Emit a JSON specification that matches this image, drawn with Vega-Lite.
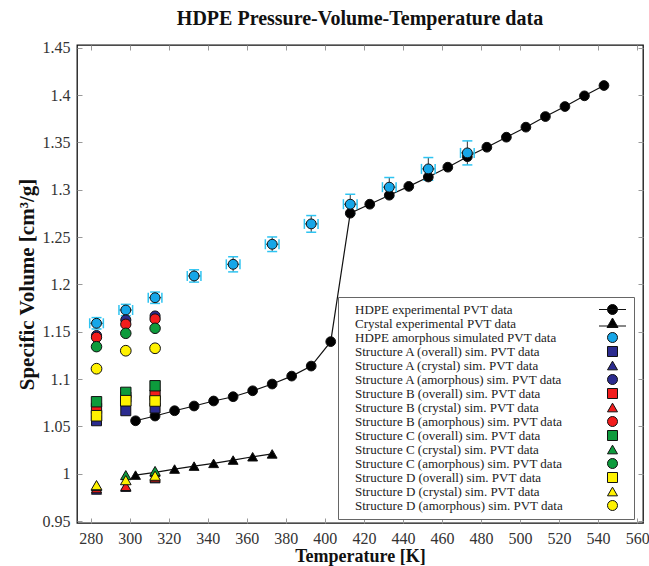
{
  "$schema": "https://vega.github.io/schema/vega-lite/v6.json",
  "width": 566,
  "height": 478,
  "autosize": {"type": "none"},
  "padding": {"left": 77, "top": 45, "right": 6, "bottom": 43},
  "title": {"text": "HDPE Pressure-Volume-Temperature data", "fontSize": 20, "fontWeight": "bold", "font": "Liberation Serif", "offset": 11, "color": "#111", "anchor": "middle"},
  "datasets": {
    "main": [
      {"series": "HDPE experimental PVT data", "T": 303, "V": 1.056},
      {"series": "HDPE experimental PVT data", "T": 313, "V": 1.061},
      {"series": "HDPE experimental PVT data", "T": 323, "V": 1.0666},
      {"series": "HDPE experimental PVT data", "T": 333, "V": 1.0716},
      {"series": "HDPE experimental PVT data", "T": 343, "V": 1.0769},
      {"series": "HDPE experimental PVT data", "T": 353, "V": 1.0814},
      {"series": "HDPE experimental PVT data", "T": 363, "V": 1.0877},
      {"series": "HDPE experimental PVT data", "T": 373, "V": 1.0948},
      {"series": "HDPE experimental PVT data", "T": 383, "V": 1.1032},
      {"series": "HDPE experimental PVT data", "T": 393, "V": 1.1138},
      {"series": "HDPE experimental PVT data", "T": 403, "V": 1.1396},
      {"series": "HDPE experimental PVT data", "T": 413, "V": 1.2753},
      {"series": "HDPE experimental PVT data", "T": 423, "V": 1.2848},
      {"series": "HDPE experimental PVT data", "T": 433, "V": 1.2943},
      {"series": "HDPE experimental PVT data", "T": 443, "V": 1.3036},
      {"series": "HDPE experimental PVT data", "T": 453, "V": 1.3135},
      {"series": "HDPE experimental PVT data", "T": 463, "V": 1.3239},
      {"series": "HDPE experimental PVT data", "T": 473, "V": 1.335},
      {"series": "HDPE experimental PVT data", "T": 483, "V": 1.345},
      {"series": "HDPE experimental PVT data", "T": 493, "V": 1.3556},
      {"series": "HDPE experimental PVT data", "T": 503, "V": 1.3662},
      {"series": "HDPE experimental PVT data", "T": 513, "V": 1.3774},
      {"series": "HDPE experimental PVT data", "T": 523, "V": 1.388},
      {"series": "HDPE experimental PVT data", "T": 533, "V": 1.3993},
      {"series": "HDPE experimental PVT data", "T": 543, "V": 1.4102},
      {"series": "Crystal experimental PVT data", "T": 303, "V": 0.9986},
      {"series": "Crystal experimental PVT data", "T": 313, "V": 1.0015},
      {"series": "Crystal experimental PVT data", "T": 323, "V": 1.005},
      {"series": "Crystal experimental PVT data", "T": 333, "V": 1.0081},
      {"series": "Crystal experimental PVT data", "T": 343, "V": 1.011},
      {"series": "Crystal experimental PVT data", "T": 353, "V": 1.0145},
      {"series": "Crystal experimental PVT data", "T": 363, "V": 1.018},
      {"series": "Crystal experimental PVT data", "T": 373, "V": 1.021},
      {"series": "HDPE amorphous simulated PVT data", "T": 283, "V": 1.159},
      {"series": "HDPE amorphous simulated PVT data", "T": 298, "V": 1.173},
      {"series": "HDPE amorphous simulated PVT data", "T": 313, "V": 1.186},
      {"series": "HDPE amorphous simulated PVT data", "T": 333, "V": 1.209},
      {"series": "HDPE amorphous simulated PVT data", "T": 353, "V": 1.2213},
      {"series": "HDPE amorphous simulated PVT data", "T": 373, "V": 1.2425},
      {"series": "HDPE amorphous simulated PVT data", "T": 393, "V": 1.264},
      {"series": "HDPE amorphous simulated PVT data", "T": 413, "V": 1.2848},
      {"series": "HDPE amorphous simulated PVT data", "T": 433, "V": 1.3028},
      {"series": "HDPE amorphous simulated PVT data", "T": 453, "V": 1.3221},
      {"series": "HDPE amorphous simulated PVT data", "T": 473, "V": 1.339},
      {"series": "Structure A (overall) sim. PVT data", "T": 283, "V": 1.056},
      {"series": "Structure A (overall) sim. PVT data", "T": 298, "V": 1.0666},
      {"series": "Structure A (overall) sim. PVT data", "T": 313, "V": 1.0695},
      {"series": "Structure A (crystal) sim. PVT data", "T": 283, "V": 0.983},
      {"series": "Structure A (crystal) sim. PVT data", "T": 298, "V": 0.986},
      {"series": "Structure A (crystal) sim. PVT data", "T": 313, "V": 0.995},
      {"series": "Structure A (amorphous) sim. PVT data", "T": 283, "V": 1.146},
      {"series": "Structure A (amorphous) sim. PVT data", "T": 298, "V": 1.1625},
      {"series": "Structure A (amorphous) sim. PVT data", "T": 313, "V": 1.1667},
      {"series": "Structure B (overall) sim. PVT data", "T": 283, "V": 1.0691},
      {"series": "Structure B (overall) sim. PVT data", "T": 298, "V": 1.081},
      {"series": "Structure B (overall) sim. PVT data", "T": 313, "V": 1.0832},
      {"series": "Structure B (crystal) sim. PVT data", "T": 283, "V": 0.9846},
      {"series": "Structure B (crystal) sim. PVT data", "T": 298, "V": 0.987},
      {"series": "Structure B (crystal) sim. PVT data", "T": 313, "V": 0.996},
      {"series": "Structure B (amorphous) sim. PVT data", "T": 283, "V": 1.1442},
      {"series": "Structure B (amorphous) sim. PVT data", "T": 298, "V": 1.158},
      {"series": "Structure B (amorphous) sim. PVT data", "T": 313, "V": 1.1635},
      {"series": "Structure C (overall) sim. PVT data", "T": 283, "V": 1.0761},
      {"series": "Structure C (overall) sim. PVT data", "T": 298, "V": 1.086},
      {"series": "Structure C (overall) sim. PVT data", "T": 313, "V": 1.093},
      {"series": "Structure C (crystal) sim. PVT data", "T": 283, "V": 0.987},
      {"series": "Structure C (crystal) sim. PVT data", "T": 298, "V": 0.9986},
      {"series": "Structure C (crystal) sim. PVT data", "T": 313, "V": 1.003},
      {"series": "Structure C (amorphous) sim. PVT data", "T": 283, "V": 1.1343},
      {"series": "Structure C (amorphous) sim. PVT data", "T": 298, "V": 1.1484},
      {"series": "Structure C (amorphous) sim. PVT data", "T": 313, "V": 1.1537},
      {"series": "Structure D (overall) sim. PVT data", "T": 283, "V": 1.0613},
      {"series": "Structure D (overall) sim. PVT data", "T": 298, "V": 1.0772},
      {"series": "Structure D (overall) sim. PVT data", "T": 313, "V": 1.0769},
      {"series": "Structure D (crystal) sim. PVT data", "T": 283, "V": 0.988},
      {"series": "Structure D (crystal) sim. PVT data", "T": 298, "V": 0.9933},
      {"series": "Structure D (crystal) sim. PVT data", "T": 313, "V": 0.998},
      {"series": "Structure D (amorphous) sim. PVT data", "T": 283, "V": 1.111},
      {"series": "Structure D (amorphous) sim. PVT data", "T": 298, "V": 1.13},
      {"series": "Structure D (amorphous) sim. PVT data", "T": 313, "V": 1.1326}
    ],
    "err": [
      {"T": 283, "V": 1.159, "vlo": 1.153, "vhi": 1.165, "tlo": 279.5, "thi": 286.5},
      {"T": 298, "V": 1.173, "vlo": 1.167, "vhi": 1.179, "tlo": 294.5, "thi": 301.5},
      {"T": 313, "V": 1.186, "vlo": 1.18, "vhi": 1.192, "tlo": 309.5, "thi": 316.5},
      {"T": 333, "V": 1.209, "vlo": 1.2025, "vhi": 1.2155, "tlo": 329.5, "thi": 336.5},
      {"T": 353, "V": 1.2213, "vlo": 1.2133, "vhi": 1.2293, "tlo": 349.5, "thi": 356.5},
      {"T": 373, "V": 1.2425, "vlo": 1.2348, "vhi": 1.2502, "tlo": 369.5, "thi": 376.5},
      {"T": 393, "V": 1.264, "vlo": 1.2552, "vhi": 1.2728, "tlo": 389.5, "thi": 396.5},
      {"T": 413, "V": 1.2848, "vlo": 1.2743, "vhi": 1.2953, "tlo": 409.5, "thi": 416.5},
      {"T": 433, "V": 1.3028, "vlo": 1.2926, "vhi": 1.313, "tlo": 429.5, "thi": 436.5},
      {"T": 453, "V": 1.3221, "vlo": 1.3101, "vhi": 1.3341, "tlo": 449.5, "thi": 456.5},
      {"T": 473, "V": 1.339, "vlo": 1.3263, "vhi": 1.3517, "tlo": 469.5, "thi": 476.5}
    ]
  },
  "layer": [
    {
      "data": {"name": "main"},
      "transform": [{"filter": "datum.series === 'HDPE experimental PVT data'"}],
      "mark": {"type": "line", "color": "#111", "strokeWidth": 1.2},
      "encoding": {
        "x": {"field": "T", "type": "quantitative", "scale": {"domain": [273, 563], "nice": false, "zero": false},
              "axis": {"orient": "top", "labels": false, "title": null, "values": [280,300,320,340,360,380,400,420,440,460,480,500,520,540,560]}},
        "y": {"field": "V", "type": "quantitative", "scale": {"domain": [0.948, 1.453], "nice": false, "zero": false},
              "axis": {"orient": "right", "labels": false, "title": null, "values": [0.95,1.0,1.05,1.1,1.15,1.2,1.25,1.3,1.35,1.4,1.45]}}
      }
    },
    {
      "data": {"name": "main"},
      "transform": [{"filter": "datum.series === 'Crystal experimental PVT data'"}],
      "mark": {"type": "line", "color": "#111", "strokeWidth": 1.2},
      "encoding": {
        "x": {"field": "T", "type": "quantitative", "axis": null},
        "y": {"field": "V", "type": "quantitative", "axis": null}
      }
    },
    {
      "data": {"name": "err"},
      "mark": {"type": "rule", "color": "#333", "strokeWidth": 1},
      "encoding": {
        "x": {"field": "T", "type": "quantitative", "axis": null},
        "y": {"field": "vlo", "type": "quantitative", "axis": null},
        "y2": {"field": "vhi"}
      }
    },
    {
      "data": {"name": "err"},
      "mark": {"type": "rule", "color": "#333", "strokeWidth": 1},
      "encoding": {
        "x": {"field": "tlo", "type": "quantitative", "axis": null},
        "x2": {"field": "thi"},
        "y": {"field": "V", "type": "quantitative", "axis": null}
      }
    },
    {
      "data": {"name": "err"},
      "mark": {"type": "tick", "orient": "horizontal", "color": "#2ec4f2", "size": 10, "thickness": 1.5, "opacity": 1},
      "encoding": {
        "x": {"field": "T", "type": "quantitative", "axis": null},
        "y": {"field": "vhi", "type": "quantitative", "axis": null}
      }
    },
    {
      "data": {"name": "err"},
      "mark": {"type": "tick", "orient": "horizontal", "color": "#2ec4f2", "size": 10, "thickness": 1.5, "opacity": 1},
      "encoding": {
        "x": {"field": "T", "type": "quantitative", "axis": null},
        "y": {"field": "vlo", "type": "quantitative", "axis": null}
      }
    },
    {
      "data": {"name": "err"},
      "mark": {"type": "tick", "orient": "vertical", "color": "#2ec4f2", "size": 10, "thickness": 1.5, "opacity": 1},
      "encoding": {
        "x": {"field": "tlo", "type": "quantitative", "axis": null},
        "y": {"field": "V", "type": "quantitative", "axis": null}
      }
    },
    {
      "data": {"name": "err"},
      "mark": {"type": "tick", "orient": "vertical", "color": "#2ec4f2", "size": 10, "thickness": 1.5, "opacity": 1},
      "encoding": {
        "x": {"field": "thi", "type": "quantitative", "axis": null},
        "y": {"field": "V", "type": "quantitative", "axis": null}
      }
    },
    {
      "data": {"name": "main"},
      "mark": {"type": "point", "filled": true, "stroke": "#111", "strokeWidth": 1, "opacity": 1},
      "encoding": {
        "x": {"field": "T", "type": "quantitative",
              "axis": {"orient": "bottom", "values": [280,300,320,340,360,380,400,420,440,460,480,500,520,540,560], "title": "Temperature [K]",
                       "labelFont": "Liberation Serif", "labelFontSize": 16, "labelColor": "#333", "labelPadding": 12, "titlePadding": 1,
                       "titleFont": "Liberation Serif", "titleFontSize": 18, "titleFontWeight": "bold", "titleColor": "#111"}},
        "y": {"field": "V", "type": "quantitative",
              "axis": {"orient": "left", "values": [0.95,1.0,1.05,1.1,1.15,1.2,1.25,1.3,1.35,1.4,1.45], "format": "~g", "title": "Specific Volume [cm³/g]",
                       "labelFont": "Liberation Serif", "labelFontSize": 16, "labelColor": "#333", "labelPadding": 12, "titlePadding": 5,
                       "titleFont": "Liberation Serif", "titleFontSize": 21, "titleFontWeight": "bold", "titleColor": "#111"}},
        "shape": {"field": "series", "type": "nominal", "legend": null,
          "scale": {"domain": ["HDPE experimental PVT data","Crystal experimental PVT data","HDPE amorphous simulated PVT data","Structure A (overall) sim. PVT data","Structure A (crystal) sim. PVT data","Structure A (amorphous) sim. PVT data","Structure B (overall) sim. PVT data","Structure B (crystal) sim. PVT data","Structure B (amorphous) sim. PVT data","Structure C (overall) sim. PVT data","Structure C (crystal) sim. PVT data","Structure C (amorphous) sim. PVT data","Structure D (overall) sim. PVT data","Structure D (crystal) sim. PVT data","Structure D (amorphous) sim. PVT data"],
                    "range": ["circle","triangle-up","circle","square","triangle-up","circle","square","triangle-up","circle","square","triangle-up","circle","square","triangle-up","circle"]}},
        "fill": {"field": "series", "type": "nominal", "legend": null,
          "scale": {"domain": ["HDPE experimental PVT data","Crystal experimental PVT data","HDPE amorphous simulated PVT data","Structure A (overall) sim. PVT data","Structure A (crystal) sim. PVT data","Structure A (amorphous) sim. PVT data","Structure B (overall) sim. PVT data","Structure B (crystal) sim. PVT data","Structure B (amorphous) sim. PVT data","Structure C (overall) sim. PVT data","Structure C (crystal) sim. PVT data","Structure C (amorphous) sim. PVT data","Structure D (overall) sim. PVT data","Structure D (crystal) sim. PVT data","Structure D (amorphous) sim. PVT data"],
                    "range": ["#000000","#000000","#16a6e8","#2b2b8f","#2b2b8f","#2b2b8f","#f21c1c","#f21c1c","#f21c1c","#0d9b3c","#0d9b3c","#0d9b3c","#fff200","#fff200","#fff200"]}},
        "size": {"field": "series", "type": "nominal", "legend": null,
          "scale": {"domain": ["HDPE experimental PVT data","Crystal experimental PVT data","HDPE amorphous simulated PVT data","Structure A (overall) sim. PVT data","Structure A (crystal) sim. PVT data","Structure A (amorphous) sim. PVT data","Structure B (overall) sim. PVT data","Structure B (crystal) sim. PVT data","Structure B (amorphous) sim. PVT data","Structure C (overall) sim. PVT data","Structure C (crystal) sim. PVT data","Structure C (amorphous) sim. PVT data","Structure D (overall) sim. PVT data","Structure D (crystal) sim. PVT data","Structure D (amorphous) sim. PVT data"],
                    "range": [95,115,115,78,90,95,78,90,95,78,90,95,78,90,95]}}
      }
    },
    {
      "data": {"name": "main"},
      "mark": {"type": "point", "filled": true, "stroke": "#111", "strokeWidth": 1, "opacity": 0},
      "encoding": {
        "x": {"field": "T", "type": "quantitative", "axis": null},
        "y": {"field": "V", "type": "quantitative", "axis": null},
        "shape": {"field": "series", "type": "nominal",
          "scale": {"domain": ["HDPE experimental PVT data","Crystal experimental PVT data","HDPE amorphous simulated PVT data","Structure A (overall) sim. PVT data","Structure A (crystal) sim. PVT data","Structure A (amorphous) sim. PVT data","Structure B (overall) sim. PVT data","Structure B (crystal) sim. PVT data","Structure B (amorphous) sim. PVT data","Structure C (overall) sim. PVT data","Structure C (crystal) sim. PVT data","Structure C (amorphous) sim. PVT data","Structure D (overall) sim. PVT data","Structure D (crystal) sim. PVT data","Structure D (amorphous) sim. PVT data"],
                    "range": ["M-2.7,0L2.7,0M-1,0A1,1,0,1,1,1,0A1,1,0,1,1,-1,0Z","M-2.7,0.5L2.7,0.5M0,-1.1L1.1,0.8L-1.1,0.8Z","circle","square","triangle-up","circle","square","triangle-up","circle","square","triangle-up","circle","square","triangle-up","circle"]},
          "legend": {"title": null, "orient": "none", "legendX": 261, "legendY": 252, "padding": 6, "strokeColor": "#666", "fillColor": "white",
                     "labelFont": "Liberation Serif", "labelFontSize": 13, "labelColor": "#222", "labelLimit": 320,
                     "symbolOffset": 262, "labelOffset": -264, "rowPadding": -1, "symbolSize": 100, "symbolStrokeColor": "#111", "symbolStrokeWidth": 1, "symbolOpacity": 1,
                     "encode": {"symbols": {"update": {"stroke": {"value": "#111"}, "strokeWidth": {"value": 1}, "opacity": {"value": 1}}}}}},
        "fill": {"field": "series", "type": "nominal",
          "scale": {"domain": ["HDPE experimental PVT data","Crystal experimental PVT data","HDPE amorphous simulated PVT data","Structure A (overall) sim. PVT data","Structure A (crystal) sim. PVT data","Structure A (amorphous) sim. PVT data","Structure B (overall) sim. PVT data","Structure B (crystal) sim. PVT data","Structure B (amorphous) sim. PVT data","Structure C (overall) sim. PVT data","Structure C (crystal) sim. PVT data","Structure C (amorphous) sim. PVT data","Structure D (overall) sim. PVT data","Structure D (crystal) sim. PVT data","Structure D (amorphous) sim. PVT data"],
                    "range": ["#000000","#000000","#16a6e8","#2b2b8f","#2b2b8f","#2b2b8f","#f21c1c","#f21c1c","#f21c1c","#0d9b3c","#0d9b3c","#0d9b3c","#fff200","#fff200","#fff200"]},
          "legend": {"title": null, "orient": "none", "legendX": 261, "legendY": 252, "padding": 6, "strokeColor": "#666", "fillColor": "white",
                     "labelFont": "Liberation Serif", "labelFontSize": 13, "labelColor": "#222", "labelLimit": 320,
                     "symbolOffset": 262, "labelOffset": -264, "rowPadding": -1, "symbolSize": 100, "symbolStrokeColor": "#111", "symbolStrokeWidth": 1, "symbolOpacity": 1,
                     "encode": {"symbols": {"update": {"stroke": {"value": "#111"}, "strokeWidth": {"value": 1}, "opacity": {"value": 1}}}}}}
      }
    }
  ],
  "resolve": {"scale": {"shape": "independent", "fill": "independent", "size": "independent"}, "axis": {"x": "independent", "y": "independent"}},
  "config": {
    "font": "Liberation Serif",
    "view": {"stroke": "#111", "strokeWidth": 1.3},
    "axis": {"grid": false, "domain": false, "tickColor": "#999", "tickSize": -5, "tickWidth": 1,
             "labelFont": "Liberation Serif", "labelFontSize": 16, "labelColor": "#333",
             "titleFont": "Liberation Serif", "titleFontSize": 18, "titleFontWeight": "bold", "titleColor": "#111"}
  }
}
